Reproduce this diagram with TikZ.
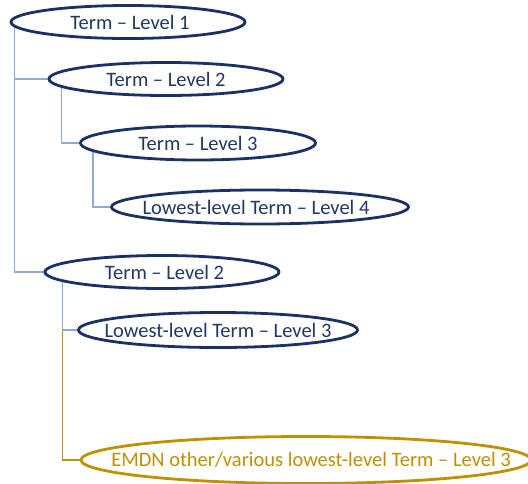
\documentclass[tikz,border=0pt]{standalone}
\usepackage{fontspec}
\setmainfont{Carlito}
\usetikzlibrary{shapes.geometric,backgrounds}
\definecolor{navy}{HTML}{1A3166}
\definecolor{navytext}{HTML}{1F3864}
\definecolor{linkblue}{HTML}{8EAADB}
\definecolor{gold}{HTML}{BF9000}
% Text is boxed at zero width so the ellipse size comes from the minimum sizes alone
\newcommand{\termtext}[1]{\makebox[0pt]{#1}}
\tikzset{
  term/.style={ellipse, draw=navy, line width=2.8pt, fill=white, inner sep=0pt,
    text=navytext, font=\fontsize{20.5}{24}\selectfont},
  otherterm/.style={term, draw=gold, text=gold},
  link/.style={draw=linkblue, line width=1.6pt},
  goldlink/.style={draw=gold, line width=1.6pt},
}
\begin{document}
\begin{tikzpicture}[x=1pt,y=-1pt]
\useasboundingbox (0,0) rectangle (528,483);
\node[term, minimum width=234pt, minimum height=33pt] (l1) at (128,22) {\termtext{\hspace{4pt}Term – Level 1}};
\node[term, minimum width=234pt, minimum height=33pt] (l2a) at (166,79) {\termtext{Term – Level 2}};
\node[term, minimum width=235pt, minimum height=34pt] (l3a) at (198,143) {\termtext{Term – Level 3}};
\node[term, minimum width=297pt, minimum height=34pt] (l4) at (260,207) {\termtext{Lowest-level Term – Level 4\hspace{8pt}}};
\node[term, minimum width=234pt, minimum height=33pt] (l2b) at (162,272) {\termtext{\hspace{5pt}Term – Level 2}};
\node[term, minimum width=279pt, minimum height=35pt] (l3b) at (218,330) {\termtext{Lowest-level Term – Level 3}};
\node[otherterm, minimum width=450pt, minimum height=47pt] (l3c) at (306,460) {\termtext{\hspace{10pt}EMDN other/various lowest-level Term – Level 3}};
\coordinate (fork) at ([xshift=19pt]l2b.west |- l3b.west);
\begin{scope}[on background layer]
  \draw[link] (l2a.west) -| ([xshift=5pt]l1.west);
  \draw[link] (l2b.west) -| ([xshift=5pt]l1.west);
  \draw[link] (l3a.west) -| ([xshift=14pt]l2a.west);
  \draw[link] (l4.west) -| ([xshift=14pt]l3a.west);
  \draw[link] (l3b.west) -| ([xshift=19pt]l2b.west);
  \draw[goldlink] (fork) |- (l3c.west);
\end{scope}
\end{tikzpicture}
\end{document}
